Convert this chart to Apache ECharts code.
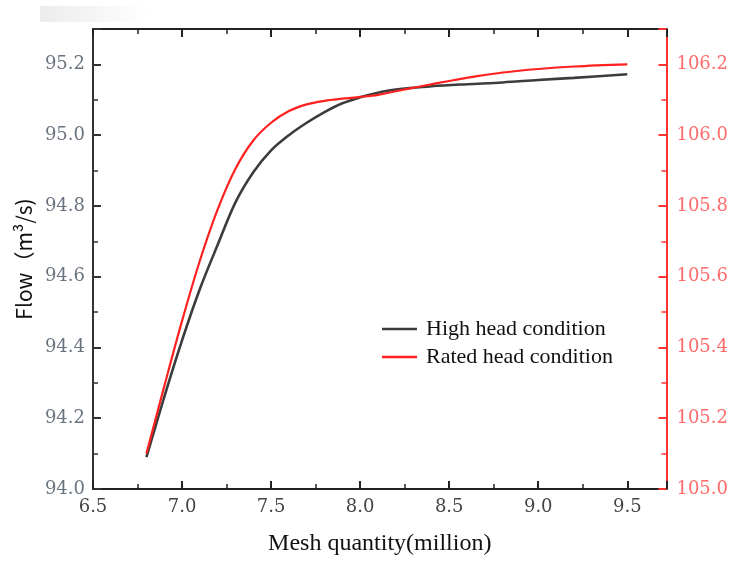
<!DOCTYPE html>
<html>
<head>
<meta charset="utf-8">
<script src="https://cdn.jsdelivr.net/npm/echarts@6/dist/echarts.min.js"></script>
<style>html,body{margin:0;padding:0;background:#fff;}#chart{width:731px;height:561px;}</style>
</head>
<body>
<div id="chart"></div>
<script>
// Mesh quantity (million)
const meshHigh = [6.8, 6.9, 7.0, 7.1, 7.2, 7.3, 7.4, 7.5, 7.6, 7.7, 7.8, 7.9, 8.0, 8.1, 8.2, 8.4, 8.6, 8.8, 9.0, 9.2, 9.5];
// High head condition flow (left axis)
const flowHigh = [94.09, 94.26, 94.42, 94.565, 94.69, 94.81, 94.895, 94.957, 95.0, 95.035, 95.065, 95.09, 95.107, 95.12, 95.129, 95.138, 95.144, 95.149, 95.156, 95.162, 95.172];
const meshRated = [6.8, 6.9, 7.0, 7.1, 7.2, 7.3, 7.4, 7.5, 7.6, 7.7, 7.8, 7.9, 8.0, 8.1, 8.2, 8.35, 8.5, 8.65, 8.8, 9.0, 9.2, 9.5];
// Rated head condition flow (right axis)
const flowRated = [105.10, 105.29, 105.475, 105.645, 105.79, 105.905, 105.985, 106.035, 106.068, 106.087, 106.097, 106.103, 106.108, 106.114, 106.124, 106.139, 106.153, 106.166, 106.177, 106.187, 106.194, 106.2];
const seriesNames = ['High head condition', 'Rated head condition'];

const chart = echarts.init(document.getElementById('chart'));
const labelFont = 'DejaVu Serif';
const xCommon = {
  type: 'value', min: 6.5, max: 9.72, interval: 0.5,
  axisLine: { lineStyle: { color: '#222', width: 2 } },
  axisTick: { inside: true, length: 8, lineStyle: { color: '#222', width: 2 } },
  minorTick: { show: true, splitNumber: 2, length: 5, lineStyle: { color: '#222', width: 1.5 } },
  splitLine: { show: false }
};
chart.setOption({
  animation: false,
  backgroundColor: '#fff',
  graphic: [{
    type: 'rect', left: 40, top: 6, shape: { width: 110, height: 16 },
    style: { fill: new echarts.graphic.LinearGradient(0, 0, 1, 0, [{ offset: 0, color: '#ececec' }, { offset: 1, color: '#ffffff' }]) },
    silent: true
  }],
  grid: { left: 93, right: 62, top: 29, bottom: 70 },
  legend: {
    orient: 'vertical', left: 377, top: 313, itemWidth: 35, itemHeight: 2.5, itemGap: 6,
    icon: 'rect',
    data: seriesNames,
    textStyle: { fontFamily: 'Liberation Serif', fontSize: 22, color: '#111', padding: [0, 0, 0, 4] }
  },
  xAxis: [
    Object.assign({}, xCommon, {
      position: 'bottom',
      name: 'Mesh quantity(million)', nameLocation: 'middle', nameGap: 43,
      nameTextStyle: { fontFamily: 'Liberation Serif', fontSize: 24, color: '#111' },
      axisLabel: { fontFamily: labelFont, fontSize: 18, color: '#444', margin: 9, showMaxLabel: false,
        formatter: v => v.toFixed(1) }
    }),
    Object.assign({}, xCommon, { position: 'top', axisLabel: { show: false } })
  ],
  yAxis: [
    {
      type: 'value', min: 94, max: 95.3, interval: 0.2, position: 'left',
      name: 'Flow（m³/s)', nameLocation: 'middle', nameGap: 56,
      nameTextStyle: { fontFamily: 'Noto Sans CJK SC', fontSize: 21, color: '#111' },
      axisLine: { show: true, lineStyle: { color: '#333', width: 2 } },
      axisTick: { inside: true, length: 8, lineStyle: { color: '#333', width: 2 } },
      minorTick: { show: true, splitNumber: 2, length: 5, lineStyle: { color: '#333', width: 1.5 } },
      splitLine: { show: false },
      axisLabel: { fontFamily: labelFont, fontSize: 18, color: '#6a7480', margin: 8, showMaxLabel: false,
        formatter: v => v.toFixed(1) }
    },
    {
      type: 'value', min: 105, max: 106.3, interval: 0.2, position: 'right',
      axisLine: { show: true, lineStyle: { color: '#ff3333', width: 2 } },
      axisTick: { inside: true, length: 8, lineStyle: { color: '#ff3333', width: 2 } },
      minorTick: { show: true, splitNumber: 2, length: 5, lineStyle: { color: '#ff3333', width: 1.5 } },
      splitLine: { show: false },
      axisLabel: { fontFamily: labelFont, fontSize: 18, color: '#ff6a6a', margin: 10, showMaxLabel: false,
        formatter: v => v.toFixed(1) }
    }
  ],
  series: [
    {
      name: seriesNames[0], type: 'line', xAxisIndex: 0, yAxisIndex: 0,
      data: meshHigh.map((x, i) => [x, flowHigh[i]]),
      smooth: 0.35, symbol: 'none',
      lineStyle: { color: '#3c3c3c', width: 2.6 }, itemStyle: { color: '#3c3c3c' }
    },
    {
      name: seriesNames[1], type: 'line', xAxisIndex: 0, yAxisIndex: 1,
      data: meshRated.map((x, i) => [x, flowRated[i]]),
      smooth: 0.35, symbol: 'none',
      lineStyle: { color: '#ff2020', width: 2.2 }, itemStyle: { color: '#ff2020' }
    }
  ]
});
</script>
</body>
</html>
